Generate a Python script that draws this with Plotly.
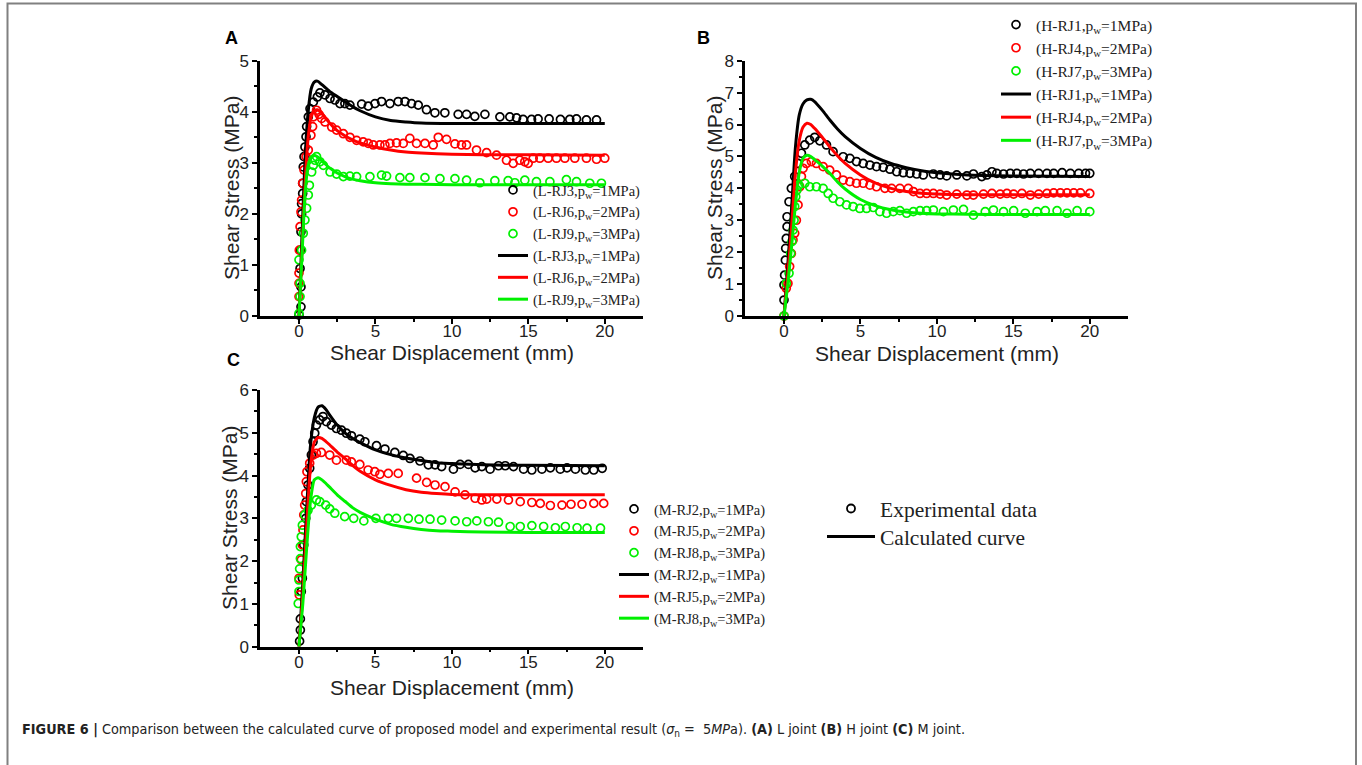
import plotly.graph_objects as go

W, H = 1362, 765

# ---------------- Panel A (L joint) ----------------
A_exp1_x = [0.0, 0.13, 0.13, 0.07, 0.11, 0.13, 0.17, 0.17, 0.24, 0.24, 0.28, 0.33, 0.39, 0.46, 0.5, 0.61, 0.72, 0.94, 1.2, 1.37,
            1.7, 2.03, 2.35, 2.68, 3.0, 3.33, 4.1, 4.53, 4.97, 5.4, 5.95, 6.49, 6.93, 7.36, 7.8, 8.34, 8.89, 9.54, 10.41, 10.96,
            11.5, 12.16, 13.14, 13.79, 14.23, 14.66, 15.21, 15.64, 16.36, 17.1, 17.71, 18.15, 18.8, 19.46]
A_exp1_y = [0.02, 0.18, 0.57, 0.93, 1.29, 1.65, 2.0, 2.2, 2.4, 2.6, 2.92, 3.12, 3.31, 3.51, 3.71, 3.9, 4.06, 4.19, 4.29, 4.37,
            4.33, 4.26, 4.23, 4.16, 4.16, 4.13, 4.15, 4.11, 4.16, 4.2, 4.16, 4.2, 4.2, 4.16, 4.13, 4.04, 3.98, 3.98, 3.95, 3.95,
            3.91, 3.95, 3.9, 3.9, 3.88, 3.85, 3.85, 3.86, 3.86, 3.85, 3.85, 3.86, 3.84, 3.84]
A_exp2_x = [0.0, 0.0, 0.0, 0.02, 0.07, 0.13, 0.17, 0.24, 0.33, 0.46, 0.61, 0.78, 0.89, 0.94, 1.15, 1.31, 1.48, 1.7, 2.14, 2.46,
            2.9, 3.33, 3.77, 4.2, 4.53, 4.86, 5.29, 5.62, 5.95, 6.38, 6.82, 7.25, 7.69, 8.24, 8.78, 9.11, 9.65, 10.2, 10.63, 10.96,
            11.61, 12.27, 12.92, 13.57, 14.01, 14.44, 14.77, 14.99, 15.32, 15.75, 16.3, 16.84, 17.39, 18.04, 18.8, 19.46, 20.0]
A_exp2_y = [0.38, 0.64, 0.84, 1.29, 1.75, 2.04, 2.27, 2.6, 2.86, 3.12, 3.25, 3.54, 3.71, 3.9, 4.03, 3.95, 3.87, 3.8, 3.7, 3.64,
            3.57, 3.5, 3.44, 3.41, 3.38, 3.35, 3.35, 3.35, 3.38, 3.39, 3.38, 3.48, 3.38, 3.38, 3.35, 3.5, 3.46, 3.37, 3.35, 3.35,
            3.25, 3.2, 3.15, 3.05, 2.99, 3.05, 3.02, 2.99, 3.09, 3.09, 3.09, 3.09, 3.09, 3.09, 3.09, 3.07, 3.09]
A_exp3_x = [0.0, 0.07, 0.07, 0.0, 0.17, 0.28, 0.39, 0.5, 0.61, 0.68, 0.83, 0.94, 1.05, 1.15, 1.37, 1.59, 2.03, 2.46, 2.9, 3.33,
            3.77, 4.64, 5.4, 5.73, 6.6, 7.25, 8.24, 9.22, 10.2, 10.96, 11.83, 12.81, 13.68, 14.12, 14.77, 15.53, 16.41, 17.49,
            18.15, 19.02, 19.78]
A_exp3_y = [0.05, 0.38, 0.64, 1.1, 1.29, 1.62, 1.88, 2.11, 2.37, 2.56, 2.82, 2.95, 3.05, 3.12, 3.02, 2.95, 2.82, 2.78, 2.73, 2.74,
            2.73, 2.73, 2.76, 2.74, 2.71, 2.71, 2.71, 2.69, 2.69, 2.66, 2.61, 2.65, 2.65, 2.61, 2.66, 2.63, 2.63, 2.67,
            2.63, 2.6, 2.6]
A_calc_x = [0, 0.2, 0.4, 0.6, 0.8, 1.0, 1.2, 1.5, 2, 2.5, 3, 3.5, 4, 5, 6, 7, 8, 10, 12, 15, 20]
A_calc1_y = [0, 1.6, 3.1, 4.0, 4.45, 4.58, 4.6, 4.53, 4.4, 4.3, 4.2, 4.1, 4.02, 3.9, 3.83, 3.8, 3.78, 3.77, 3.77, 3.77, 3.77]
A_calc2_y = [0, 1.3, 2.6, 3.5, 3.9, 4.02, 4.04, 3.97, 3.78, 3.63, 3.53, 3.45, 3.39, 3.31, 3.25, 3.21, 3.19, 3.17, 3.16, 3.16, 3.15]
A_calc3_y = [0, 1.2, 2.4, 2.95, 3.12, 3.15, 3.12, 3.04, 2.9, 2.8, 2.73, 2.68, 2.65, 2.61, 2.59, 2.58, 2.58, 2.57, 2.57, 2.57, 2.57]
A_names = ["(L-RJ3,p<sub>w</sub>=1MPa)", "(L-RJ6,p<sub>w</sub>=2MPa)", "(L-RJ9,p<sub>w</sub>=3MPa)"]

# ---------------- Panel B (H joint) ----------------
B_exp1_x = [0.0, 0.0, 0.04, 0.09, 0.11, 0.15, 0.2, 0.2, 0.33, 0.48, 0.7, 0.92, 1.14, 1.36, 1.68, 2.01, 2.34, 2.78, 3.21, 3.87,
            4.31, 4.74, 5.18, 5.62, 6.05, 6.49, 6.93, 7.37, 7.8, 8.24, 8.68, 9.11, 9.77, 10.21, 10.64, 11.3, 11.96, 12.39, 12.94,
            13.27, 13.6, 13.92, 14.36, 14.8, 15.23, 15.67, 16.11, 16.66, 17.2, 17.64, 18.19, 18.73, 19.28, 19.72, 20.0]
B_exp1_y = [0.5, 0.97, 1.28, 1.75, 2.12, 2.43, 2.8, 3.11, 3.58, 4.0, 4.37, 4.78, 5.1, 5.36, 5.51, 5.6, 5.49, 5.36, 5.15, 4.99,
            4.94, 4.84, 4.78, 4.73, 4.68, 4.66, 4.6, 4.52, 4.49, 4.47, 4.45, 4.42, 4.45, 4.42, 4.39, 4.42, 4.39, 4.45, 4.37,
            4.42, 4.52, 4.47, 4.45, 4.47, 4.47, 4.45, 4.47, 4.47, 4.47, 4.47, 4.49, 4.47, 4.47, 4.47, 4.47]
B_exp2_x = [0.0, 0.15, 0.26, 0.37, 0.48, 0.59, 0.7, 0.81, 0.92, 1.03, 1.14, 1.25, 1.46, 1.79, 2.12, 2.56, 2.99, 3.43, 3.87, 4.31,
            4.74, 5.18, 5.62, 6.05, 6.6, 7.04, 7.58, 8.13, 8.46, 8.9, 9.33, 9.77, 10.21, 10.64, 11.3, 11.96, 12.39, 13.05, 13.6,
            14.14, 14.58, 15.02, 15.56, 16.11, 16.66, 17.2, 17.64, 18.08, 18.51, 18.95, 19.39, 20.0]
B_exp2_y = [0.0, 0.87, 1.02, 1.55, 1.96, 2.38, 2.59, 3.0, 3.48, 4.05, 4.37, 4.63, 4.78, 4.84, 4.78, 4.68, 4.57, 4.42, 4.26, 4.21,
            4.16, 4.16, 4.1, 4.05, 4.0, 4.0, 4.0, 4.0, 3.9, 3.84, 3.84, 3.84, 3.82, 3.79, 3.82, 3.79, 3.79, 3.82, 3.84,
            3.82, 3.84, 3.82, 3.84, 3.79, 3.82, 3.84, 3.86, 3.86, 3.86, 3.86, 3.86, 3.84]
B_exp3_x = [0.0, 0.15, 0.33, 0.44, 0.52, 0.59, 0.66, 0.7, 0.77, 0.85, 0.98, 1.36, 1.68, 2.12, 2.56, 2.89, 3.21, 3.65, 4.09, 4.52,
            4.96, 5.4, 5.84, 6.27, 6.71, 7.15, 7.58, 8.02, 8.46, 8.9, 9.33, 9.77, 10.43, 11.08, 11.74, 12.39, 13.16, 13.7, 14.36,
            15.02, 15.78, 16.55, 17.09, 17.86, 18.51, 19.17, 20.0]
B_exp3_y = [0.0, 1.02, 1.34, 1.96, 2.33, 2.69, 3.0, 3.43, 3.74, 3.95, 4.1, 4.16, 4.05, 4.05, 4.0, 3.84, 3.69, 3.58, 3.48, 3.43,
            3.37, 3.37, 3.4, 3.27, 3.22, 3.27, 3.3, 3.22, 3.27, 3.3, 3.3, 3.32, 3.27, 3.32, 3.34, 3.16, 3.27, 3.32, 3.27,
            3.3, 3.22, 3.27, 3.3, 3.3, 3.22, 3.3, 3.27]
B_calc_x = [0, 0.25, 0.5, 0.75, 1.0, 1.25, 1.5, 1.75, 2, 2.5, 3, 3.5, 4, 5, 6, 7, 8, 9, 10, 12, 15, 20]
B_calc1_y = [0, 1.6, 3.4, 5.3, 6.3, 6.65, 6.77, 6.79, 6.72, 6.45, 6.14, 5.86, 5.62, 5.25, 4.97, 4.78, 4.65, 4.55, 4.49, 4.42, 4.39, 4.37]
B_calc2_y = [0, 1.3, 2.8, 4.5, 5.5, 5.92, 6.04, 6.0, 5.88, 5.6, 5.3, 5.02, 4.78, 4.42, 4.16, 4.0, 3.9, 3.85, 3.82, 3.8, 3.8, 3.8]
B_calc3_y = [0, 1.0, 2.2, 3.5, 4.5, 4.95, 5.04, 5.0, 4.9, 4.7, 4.47, 4.2, 3.98, 3.65, 3.45, 3.33, 3.26, 3.22, 3.2, 3.19, 3.18, 3.18]
B_names = ["(H-RJ1,p<sub>w</sub>=1MPa)", "(H-RJ4,p<sub>w</sub>=2MPa)", "(H-RJ7,p<sub>w</sub>=3MPa)"]

# ---------------- Panel C (M joint) ----------------
C_exp1_x = [0.04, 0.09, 0.09, 0.15, 0.22, 0.31, 0.44, 0.48, 0.59, 0.7, 0.81, 0.92, 1.03, 1.14, 1.36, 1.57, 1.79, 2.12, 2.45, 2.78,
            3.1, 3.43, 3.98, 4.31, 5.07, 5.62, 6.27, 6.82, 7.26, 7.91, 8.46, 8.9, 9.33, 10.1, 10.54, 11.08, 11.52, 11.96, 12.5,
            13.05, 13.49, 14.03, 14.69, 15.23, 15.89, 16.44, 17.09, 17.53, 18.08, 18.73, 19.28, 19.83]
C_exp1_y = [0.13, 0.39, 0.65, 1.29, 1.6, 2.38, 3.0, 3.39, 3.78, 4.17, 4.48, 4.79, 4.99, 5.18, 5.3, 5.38, 5.26, 5.18, 5.1, 5.06,
            4.99, 4.93, 4.85, 4.79, 4.7, 4.62, 4.54, 4.47, 4.4, 4.34, 4.25, 4.25, 4.21, 4.15, 4.26, 4.26, 4.18, 4.21, 4.15,
            4.23, 4.23, 4.21, 4.15, 4.13, 4.15, 4.18, 4.15, 4.18, 4.15, 4.13, 4.13, 4.17]
C_exp2_x = [0.0, 0.02, 0.15, 0.22, 0.26, 0.31, 0.37, 0.44, 0.48, 0.52, 0.7, 0.92, 1.14, 1.46, 2.01, 2.45, 3.1, 3.43, 3.98, 4.52,
            4.96, 5.29, 5.84, 6.49, 7.69, 8.35, 8.9, 9.55, 10.21, 10.86, 11.52, 11.96, 12.28, 12.94, 13.7, 14.47, 15.23, 15.78,
            16.44, 17.2, 17.79, 18.51, 19.28, 19.93]
C_exp2_y = [1.6, 1.21, 2.03, 2.38, 2.73, 3.08, 3.31, 3.58, 3.86, 4.09, 4.29, 4.48, 4.52, 4.54, 4.48, 4.36, 4.36, 4.32, 4.26, 4.13,
            4.09, 4.03, 4.05, 4.05, 3.94, 3.84, 3.78, 3.74, 3.62, 3.55, 3.47, 3.43, 3.45, 3.45, 3.43, 3.39, 3.37, 3.35,
            3.3, 3.31, 3.33, 3.33, 3.35, 3.35]
C_exp3_x = [-0.05, 0.0, 0.0, 0.04, 0.09, 0.09, 0.15, 0.22, 0.37, 0.59, 0.81, 1.14, 1.36, 1.75, 2.01, 2.34, 2.99, 3.58, 4.24, 5.03,
            5.84, 6.38, 7.15, 7.85, 8.57, 9.33, 10.21, 10.97, 11.63, 12.39, 13.05, 13.81, 14.47, 15.23, 16.0, 16.77, 17.42,
            18.19, 18.84, 19.72]
C_exp3_y = [1.01, 1.29, 1.56, 1.82, 2.06, 2.34, 2.57, 2.84, 3.08, 3.19, 3.31, 3.43, 3.39, 3.31, 3.22, 3.12, 3.04, 3.0, 2.94, 3.0,
            3.0, 3.0, 3.0, 2.98, 2.98, 2.96, 2.94, 2.92, 2.94, 2.92, 2.91, 2.81, 2.81, 2.83, 2.81, 2.78, 2.81,
            2.78, 2.77, 2.77]
C_calc_x = [0, 0.25, 0.5, 0.75, 1.0, 1.25, 1.5, 1.75, 2, 2.5, 3, 3.5, 4, 5, 6, 7, 8, 9, 10, 12, 15, 20]
C_calc1_y = [0, 1.5, 3.2, 4.7, 5.35, 5.6, 5.63, 5.55, 5.42, 5.18, 5.0, 4.87, 4.77, 4.6, 4.49, 4.41, 4.35, 4.3, 4.28, 4.25, 4.24, 4.23]
C_calc2_y = [0, 1.2, 2.8, 4.2, 4.78, 4.89, 4.87, 4.8, 4.72, 4.55, 4.4, 4.24, 4.1, 3.9, 3.77, 3.67, 3.61, 3.58, 3.56, 3.55, 3.55, 3.55]
C_calc3_y = [0, 1.0, 2.3, 3.4, 3.9, 3.95, 3.9, 3.82, 3.73, 3.55, 3.4, 3.25, 3.14, 2.98, 2.86, 2.79, 2.74, 2.71, 2.7, 2.68, 2.67, 2.67]
C_names = ["(M-RJ2,p<sub>w</sub>=1MPa)", "(M-RJ5,p<sub>w</sub>=2MPa)", "(M-RJ8,p<sub>w</sub>=3MPa)"]

x_ticks = [0, 5, 10, 15, 20]
colors = ["#000000", "#ff0000", "#00f000"]

fig = go.Figure()

panels = [
    ("x", "y", "legend", [(A_exp1_x, A_exp1_y), (A_exp2_x, A_exp2_y), (A_exp3_x, A_exp3_y)],
     A_calc_x, [A_calc1_y, A_calc2_y, A_calc3_y], A_names),
    ("x2", "y2", "legend2", [(B_exp1_x, B_exp1_y), (B_exp2_x, B_exp2_y), (B_exp3_x, B_exp3_y)],
     B_calc_x, [B_calc1_y, B_calc2_y, B_calc3_y], B_names),
    ("x3", "y3", "legend3", [(C_exp1_x, C_exp1_y), (C_exp2_x, C_exp2_y), (C_exp3_x, C_exp3_y)],
     C_calc_x, [C_calc1_y, C_calc2_y, C_calc3_y], C_names),
]

for xa, ya, lg, exps, cx, calcs, names in panels:
    for (ex, ey), col, nm in zip(exps, colors, names):
        fig.add_trace(go.Scatter(x=ex, y=ey, mode="markers", name=nm, xaxis=xa, yaxis=ya, legend=lg,
                                 marker=dict(symbol="circle-open", size=8, color=col, line=dict(width=1.7, color=col)),
                                 cliponaxis=False))
    for cy, col, nm in zip(calcs, colors, names):
        fig.add_trace(go.Scatter(x=cx, y=cy, mode="lines", name=nm, xaxis=xa, yaxis=ya, legend=lg,
                                 line=dict(color=col, width=3, shape="spline", smoothing=0.6)))

# summary legend (two single-entry legends for exact row spacing)
fig.add_trace(go.Scatter(x=[None], y=[None], mode="markers", name="Experimental data", xaxis="x3", yaxis="y3",
                         legend="legend4", marker=dict(symbol="circle-open", size=8, color="black", line=dict(width=1.8))))
fig.add_trace(go.Scatter(x=[None], y=[None], mode="lines", name="Calculated curve", xaxis="x3", yaxis="y3",
                         legend="legend5", line=dict(color="black", width=3)))

def px(v):
    return v / W

def py(v):
    return (H - v) / H

tickfont = dict(family="Liberation Sans, Arial, sans-serif", size=17, color="#222222")

def xaxis(dom, anchor):
    return dict(domain=dom, range=[-2.55, 22.5], anchor=anchor, tickvals=x_ticks, showline=True, linewidth=2.5,
                linecolor="black", ticks="outside", ticklen=5, tickwidth=2, tickcolor="black", showgrid=False,
                zeroline=False, tickfont=tickfont, automargin=False, ticklabelstandoff=-7,
                minor=dict(tickvals=[2.5, 7.5, 12.5, 17.5], ticklen=3, tickwidth=1.5, tickcolor="black", ticks="outside"))

def yaxis(dom, rng, anchor, minor_vals):
    return dict(domain=dom, range=rng, anchor=anchor, dtick=1, showline=True, linewidth=2.5, linecolor="black",
                ticks="outside", ticklen=5, tickwidth=2, tickcolor="black", showgrid=False, zeroline=False,
                tickfont=tickfont, automargin=False,
                minor=dict(tickvals=minor_vals, ticklen=3, tickwidth=1.5, tickcolor="black", ticks="outside"))

legfont = dict(family="Liberation Serif, Times New Roman, serif", size=14.5, color="#222222")
legfontB = dict(family="Liberation Serif, Times New Roman, serif", size=15.5, color="#222222")
bigfont = dict(family="Liberation Serif, Times New Roman, serif", size=21.5, color="#222222")

fig.update_layout(
    width=W, height=H, margin=dict(l=0, r=0, t=0, b=0, autoexpand=False),
    paper_bgcolor="white", plot_bgcolor="white", showlegend=True,
    xaxis=xaxis([px(260), px(643)], "y"),
    yaxis=yaxis([py(316), py(60.7)], [0, 5], "x", [0.5, 1.5, 2.5, 3.5, 4.5]),
    xaxis2=xaxis([px(745), px(1128)], "y2"),
    yaxis2=yaxis([py(316), py(60.7)], [0, 8], "x2", [0.5 + i for i in range(8)]),
    xaxis3=xaxis([px(260), px(643)], "y3"),
    yaxis3=yaxis([py(646.7), py(390)], [0, 6], "x3", [0.5 + i for i in range(6)]),
    legend=dict(x=px(493), y=py(174), xanchor="left", yanchor="top", font=legfont, bgcolor="rgba(0,0,0,0)",
                tracegroupgap=0, itemwidth=30),
    legend2=dict(x=px(996), y=py(8), xanchor="left", yanchor="top", font=legfontB, bgcolor="rgba(0,0,0,0)",
                 tracegroupgap=0, itemwidth=30),
    legend3=dict(x=px(614), y=py(493), xanchor="left", yanchor="top", font=legfont, bgcolor="rgba(0,0,0,0)",
                 tracegroupgap=0, itemwidth=30),
    legend4=dict(x=px(822), y=py(488), xanchor="left", yanchor="top", font=bigfont,
                 bgcolor="rgba(0,0,0,0)", tracegroupgap=0, itemwidth=48),
    legend5=dict(x=px(822), y=py(516), xanchor="left", yanchor="top", font=bigfont,
                 bgcolor="rgba(0,0,0,0)", tracegroupgap=0, itemwidth=48),
)

title_font = dict(family="Liberation Sans, Arial, sans-serif", size=21, color="#222222")
ann = []
# x axis titles
for cx_, cy_ in [(452, 352), (937, 353), (452, 687)]:
    ann.append(dict(text="Shear Displacement (mm)", x=px(cx_), y=py(cy_), xref="paper", yref="paper",
                    xanchor="center", yanchor="middle", showarrow=False, font=title_font))
# y axis titles
for cx_, cy_ in [(231, 188), (714, 188), (229, 518)]:
    ann.append(dict(text="Shear Stress (MPa)", x=px(cx_), y=py(cy_), xref="paper", yref="paper", textangle=-90,
                    xanchor="center", yanchor="middle", showarrow=False, font=title_font))
# panel letters
for lab, cx_, cy_ in [("A", 231, 38), ("B", 703, 38), ("C", 233, 360)]:
    ann.append(dict(text="<b>%s</b>" % lab, x=px(cx_), y=py(cy_), xref="paper", yref="paper",
                    xanchor="center", yanchor="middle", showarrow=False,
                    font=dict(family="Liberation Sans, Arial, sans-serif", size=18, color="black")))
# caption
ann.append(dict(text="<b>FIGURE 6 |</b> Comparison between the calculated curve of proposed model and experimental result "
                     "(<i>σ</i><sub>n</sub> =  5<i>MP</i>a). <b>(A)</b> L joint <b>(B)</b> H joint <b>(C)</b> M joint.",
                x=px(20), y=py(730), xref="paper", yref="paper", xanchor="left", yanchor="middle", showarrow=False,
                font=dict(family="Liberation Sans Narrow, DejaVu Sans Condensed, Liberation Sans, sans-serif",
                          size=14.3, color="#222222")))
fig.update_layout(annotations=ann)

# outer frame
fig.add_shape(type="rect", xref="paper", yref="paper", x0=px(7.5), x1=px(1356), y0=-0.05, y1=py(3.5),
              line=dict(color="#808080", width=2), fillcolor="rgba(0,0,0,0)", layer="below")

fig.write_html("out.html", config={"displayModeBar": False},
               post_script="document.body.style.margin='0px';document.body.style.overflow='hidden';")
